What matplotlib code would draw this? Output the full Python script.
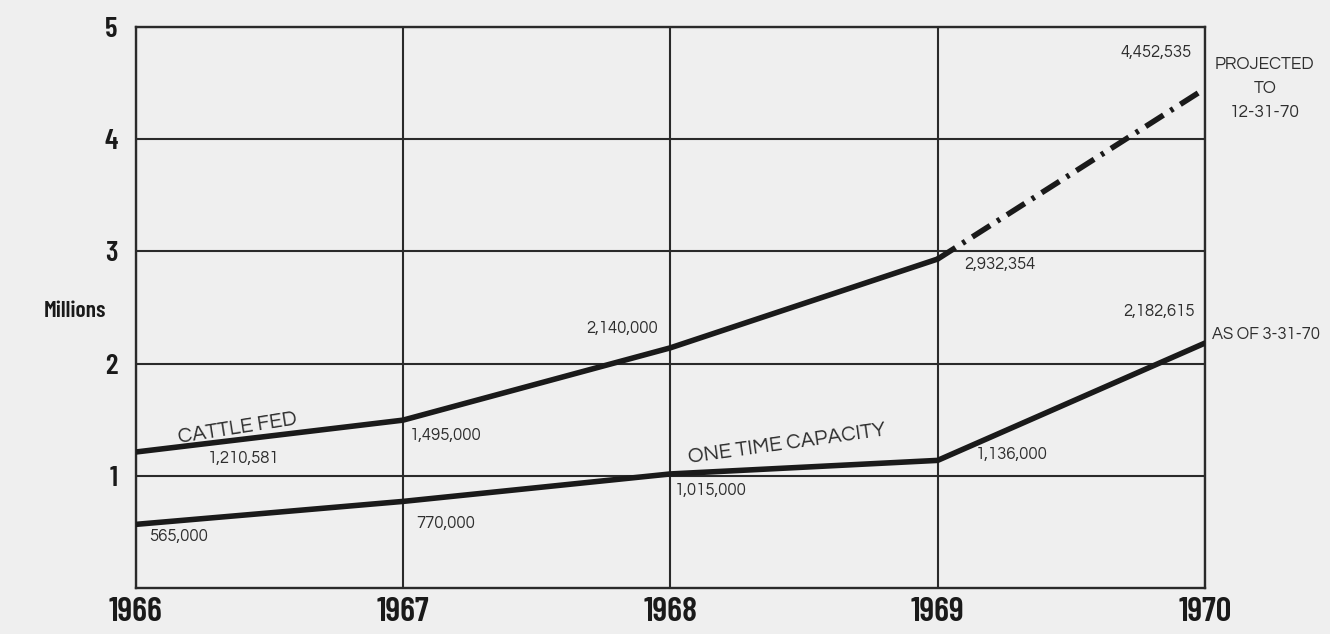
import matplotlib.pyplot as plt

# cattle fed and one-time feedlot capacity, 1966-1970
anos = [1966, 1967, 1968, 1969, 1970]
gado = [1210581, 1495000, 2140000, 2932354, 4452535]
capacidade = [565000, 770000, 1015000, 1136000, 2182615]
rotulos_y = ['1', '2', '3', '4', '5']

cinza = '#efefef'
preto = '#1a1a1a'
texto = '#2e2e2e'
estreita = ['Barlow Condensed', 'DejaVu Sans']
redonda = ['Questrial', 'DejaVu Sans']

fig = plt.figure(figsize=(13.3, 6.34), dpi=100, facecolor=cinza)
ax = fig.add_axes([0.102, 0.073, 0.804, 0.884])
ax.set_facecolor(cinza)

g = [v / 1e6 for v in gado]
c = [v / 1e6 for v in capacidade]

# solid up to 1969, dash-dot projection to the end of 1970
ax.plot(anos[:4], g[:4], color=preto, lw=4, solid_capstyle='round', zorder=3)
proj, = ax.plot(anos[3:], g[3:], color=preto, lw=4, zorder=3)
proj.set_dashes([3.8, 1.5, 0.6, 1.5])
ax.plot(anos, c, color=preto, lw=4, solid_capstyle='round', zorder=3)

ax.set_xlim(1966, 1970)
ax.set_ylim(0, 5)
ax.set_xticks(anos)
ax.set_xticklabels([str(a) for a in anos], family=estreita, weight='semibold', fontsize=25)
ax.set_yticks(range(1, 6))
ax.set_yticklabels(rotulos_y, family=estreita, weight='semibold', fontsize=21)
ax.tick_params(length=0, colors=preto)
ax.tick_params(axis='x', pad=7)
ax.tick_params(axis='y', pad=13)
ax.grid(True, color='#2a2a2a', lw=1.5)
for s in ax.spines.values():
    s.set_color('#2a2a2a')
    s.set_linewidth(1.7)

fig.text(0.056, 0.51, 'Millions', family=estreita, weight='semibold', fontsize=17,
         ha='center', va='center', color=preto)

# value labels, offsets in points from each point
off_g = [(78, -5), (31, -11), (-35, 14), (45, -4), (-35, 26)]
off_c = [(31, -9), (31, -16), (29, -12), (53, 4), (-33, 23)]
for a, v, o in zip(anos, gado, off_g):
    ax.annotate(f'{v:,}', (a, v / 1e6), xytext=o, textcoords='offset points',
                ha='center', va='center', family=redonda, fontsize=12, color=texto)
for a, v, o in zip(anos, capacidade, off_c):
    ax.annotate(f'{v:,}', (a, v / 1e6), xytext=o, textcoords='offset points',
                ha='center', va='center', family=redonda, fontsize=12, color=texto)

ax.annotate('PROJECTED\nTO\n12-31-70', (anos[4], g[4]), xytext=(43, 0),
            textcoords='offset points', ha='center', va='center', family=redonda,
            fontsize=12.5, color=texto, linespacing=1.75, annotation_clip=False)
ax.annotate('AS OF 3-31-70', (anos[4], c[4]), xytext=(5, 6),
            textcoords='offset points', ha='left', va='center', family=redonda,
            fontsize=12, color=texto, annotation_clip=False)

ax.annotate('CATTLE FED', (anos[0], g[0]), xytext=(73, 17), textcoords='offset points',
            ha='center', va='center', family=redonda, fontsize=15, color=texto, rotation=9)
ax.annotate('ONE TIME CAPACITY', (anos[2], c[2]), xytext=(84, 22), textcoords='offset points',
            ha='center', va='center', family=redonda, fontsize=15, color=texto, rotation=8)

fig.savefig('out.png', dpi=100, facecolor=cinza)
